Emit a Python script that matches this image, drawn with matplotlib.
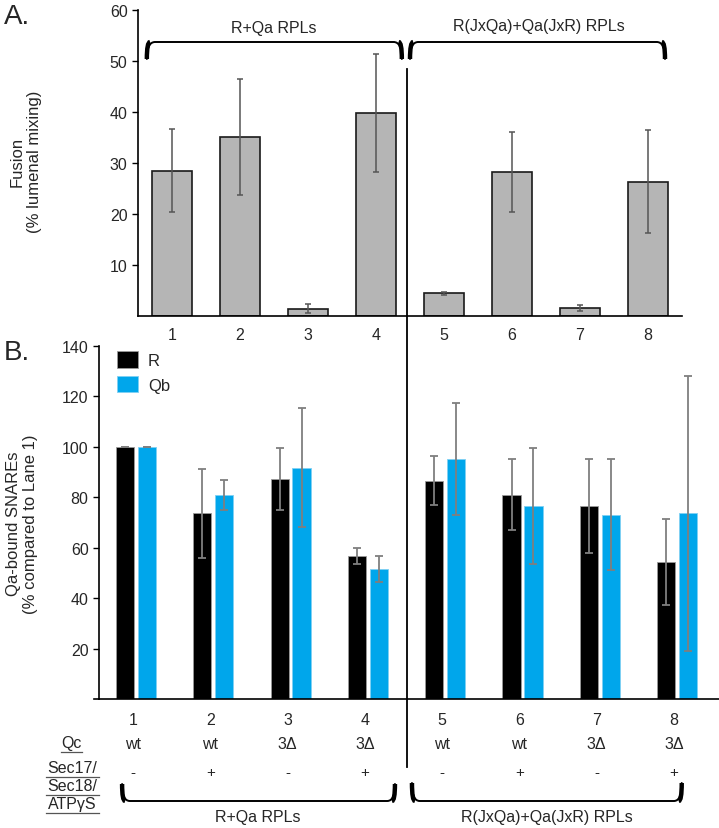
import numpy as np
import matplotlib.pyplot as plt
from matplotlib.path import Path
from matplotlib.patches import PathPatch
from matplotlib.lines import Line2D
from matplotlib.transforms import blended_transform_factory

plt.rcParams['font.family'] = ['Liberation Sans', 'DejaVu Sans']

# dados do painel A (fusao)
lanes = [1, 2, 3, 4, 5, 6, 7, 8]
fusao = [28.5, 35.1, 1.4, 39.8, 4.5, 28.2, 1.6, 26.3]
fusao_err = [8.1, 11.4, 0.9, 11.5, 0.3, 7.8, 0.6, 10.1]

# dados do painel B (SNAREs ligados a Qa)
snare_r = [100, 73.7, 87.3, 56.6, 86.6, 81.0, 76.5, 54.3]
snare_r_err = [0, 17.6, 12.3, 3.2, 9.8, 14.0, 18.7, 17.2]
snare_qb = [100, 81.0, 91.7, 51.6, 95.1, 76.5, 73.1, 73.7]
snare_qb_err = [0, 6.0, 23.6, 5.3, 22.3, 23.0, 22.0, 54.5]

qc_labels = ['wt', 'wt', '3Δ', '3Δ', 'wt', 'wt', '3Δ', '3Δ']
sec_labels = ['-', '+', '-', '+', '-', '+', '-', '+']
grupos = ['R+Qa RPLs', 'R(JxQa)+Qa(JxR) RPLs']

W, H = 719, 829
fig = plt.figure(figsize=(W / 100, H / 100), dpi=100)

def fx(x):
    return x / W

def fy(y):
    return 1 - y / H

txt = '#262626'
azul = '#00a6eb'
fs = 11.5

# ---------- painel A ----------
axA = fig.add_axes([fx(138), fy(317), fx(682) - fx(138), fy(11) - fy(317)])
axA.bar(lanes, fusao, width=0.6, color='#b5b5b5', edgecolor='#1a1a1a', linewidth=1.2, zorder=2)
axA.errorbar(lanes, fusao, yerr=fusao_err, fmt='none', ecolor='#555555', elinewidth=1.1,
             capsize=2.5, capthick=1.1, zorder=3)
axA.set_xlim(0.5, 8.5)
axA.set_ylim(0, 60)
axA.set_yticks([10, 20, 30, 40, 50, 60])
axA.set_xticks(lanes)
axA.tick_params(axis='x', length=0, pad=8, labelsize=fs, labelcolor=txt)
axA.tick_params(axis='y', length=4, width=1, labelsize=fs, labelcolor=txt)
for s in ['top', 'right']:
    axA.spines[s].set_visible(False)
axA.spines['left'].set_linewidth(1.2)
axA.spines['bottom'].set_linewidth(1.2)

# ---------- painel B ----------
axB = fig.add_axes([fx(99), fy(700), fx(719) - fx(99), fy(347) - fy(700)])
pos = np.array(lanes, dtype=float)
off = 0.142
bw = 0.235
axB.bar(pos - off, snare_r, width=bw, color='black', edgecolor='#9a9a9a', linewidth=0.6,
        label='R', zorder=2)
axB.bar(pos + off, snare_qb, width=bw, color=azul, edgecolor='#7fd0f3', linewidth=0.6,
        label='Qb', zorder=2)
axB.errorbar(pos - off, snare_r, yerr=snare_r_err, fmt='none', ecolor='#7f7f7f',
             elinewidth=1.3, capsize=3.2, capthick=1.3, zorder=3)
axB.errorbar(pos + off, snare_qb, yerr=snare_qb_err, fmt='none', ecolor='#7f7f7f',
             elinewidth=1.3, capsize=3.2, capthick=1.3, zorder=3)
axB.set_xlim(1 - 37 / 77.3, 1 + 583 / 77.3)
axB.set_ylim(0, 140)
axB.set_yticks([20, 40, 60, 80, 100, 120, 140])
axB.set_xticks([])
axB.tick_params(axis='y', length=4, width=1, labelsize=fs, labelcolor=txt)
for s in ['top', 'right']:
    axB.spines[s].set_visible(False)
axB.spines['left'].set_linewidth(1.2)
axB.spines['bottom'].set_linewidth(1.2)
axB.legend(loc='upper left', bbox_to_anchor=(0.029, 0.985), frameon=False, fontsize=12,
           handlelength=1.25, handleheight=1.15, labelspacing=0.45, handletextpad=0.6,
           borderpad=0, borderaxespad=0, labelcolor=txt)
# eixo x do painel B passa um pouco para a esquerda do eixo y
fig.add_artist(Line2D([fx(94), fx(99)], [fy(700), fy(700)], color='black', lw=1.2,
                      transform=fig.transFigure))

# rotulos dos eixos e letras dos paineis
fig.text(fx(26), fy(162), 'Fusion\n(% lumenal mixing)', rotation=90, ha='center', va='center',
         fontsize=12, color=txt, multialignment='center')
fig.text(fx(22), fy(524), 'Qa-bound SNAREs\n(% compared to Lane 1)', rotation=90, ha='center',
         va='center', fontsize=12, color=txt, multialignment='center')
fig.text(fx(4), fy(17), 'A.', fontsize=20, color=txt, va='center', ha='left')
fig.text(fx(4), fy(353), 'B.', fontsize=20, color=txt, va='center', ha='left')

# linha vertical que separa os grupos
fig.add_artist(Line2D([fx(407), fx(407)], [fy(70), fy(768)], color='black', lw=1.3,
                      transform=fig.transFigure))

# linhas de texto abaixo do painel B
trB = blended_transform_factory(axB.transData, fig.transFigure)
for i, p in enumerate(pos):
    fig.text(p - 0.04, fy(721), str(lanes[i]), transform=trB, ha='center', va='center',
             fontsize=fs, color=txt)
    fig.text(p - 0.04, fy(745), qc_labels[i], transform=trB, ha='center', va='center',
             fontsize=fs, color=txt)
    fig.text(p - 0.04, fy(773), sec_labels[i], transform=trB, ha='center', va='center',
             fontsize=11, color=txt)

def rotulo_sublinhado(x, y, s, x0, x1):
    fig.text(fx(x), fy(y), s, ha='center', va='center', fontsize=fs, color=txt)
    fig.add_artist(Line2D([fx(x0), fx(x1)], [fy(y + 9), fy(y + 9)], color='#555555', lw=0.9,
                          transform=fig.transFigure))

rotulo_sublinhado(71, 744, 'Qc', 61, 82)
rotulo_sublinhado(72, 769, 'Sec17/', 46, 99)
rotulo_sublinhado(72, 787, 'Sec18/', 46, 99)
rotulo_sublinhado(72, 805, 'ATPγS', 46, 99)

def chave(tr, x0, x1, y_hook, y_line, r):
    # chave com as pontas curvas
    verts = [(x0, y_hook), (x0, y_line), (x0 + r, y_line), (x1 - r, y_line),
             (x1, y_line), (x1, y_hook)]
    codes = [Path.MOVETO, Path.CURVE3, Path.CURVE3, Path.LINETO, Path.CURVE3, Path.CURVE3]
    fig.add_artist(PathPatch(Path(verts, codes), fill=False, lw=1.4, edgecolor='black',
                             transform=tr, capstyle='round'))
    for xa, xb in [(x0, x0 + r * 0.4), (x1, x1 - r * 0.4)]:
        v = [(xa, y_hook), (xa, y_line), (xb, y_line)]
        fig.add_artist(PathPatch(Path(v, [Path.MOVETO, Path.CURVE3, Path.CURVE3]), fill=False,
                                 lw=3.2, edgecolor='black', transform=tr, capstyle='butt'))

# chaves do painel A
trA = blended_transform_factory(axA.transData, fig.transFigure)
chave(trA, 0.63, 4.38, fy(60), fy(43), 0.12)
chave(trA, 4.50, 8.25, fy(60), fy(43), 0.12)
fig.text(2.5, fy(29), grupos[0], transform=trA, ha='center', va='center', fontsize=fs, color=txt)
fig.text(6.4, fy(27), grupos[1], transform=trA, ha='center', va='center', fontsize=fs, color=txt)

# chaves do painel B
chave(trB, 0.82, 4.35, fy(785), fy(802), 0.1)
chave(trB, 4.57, 8.06, fy(784), fy(802), 0.1)
fig.text(2.58, fy(818), grupos[0], transform=trB, ha='center', va='center', fontsize=fs, color=txt)
fig.text(6.31, fy(818), grupos[1], transform=trB, ha='center', va='center', fontsize=fs, color=txt)

fig.savefig('out.png', dpi=100)
